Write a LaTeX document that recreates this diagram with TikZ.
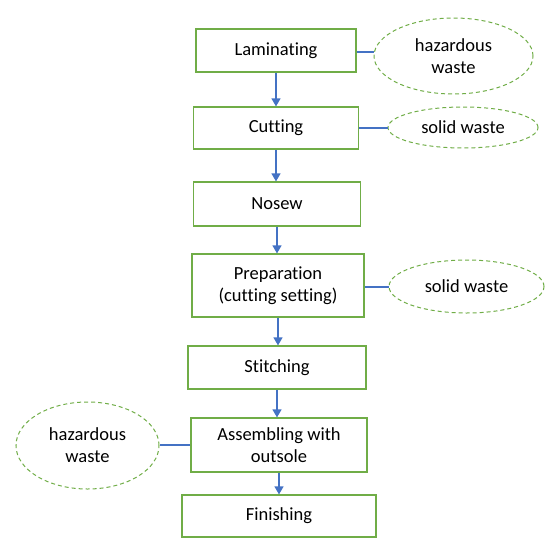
\documentclass[tikz,border=0pt]{standalone}
\usepackage{fontspec}
\setmainfont{Carlito}[Ligatures=NoCommon]
\usetikzlibrary{arrows.meta,shapes.geometric}
\definecolor{boxgreen}{HTML}{70AD47}
\definecolor{arrblue}{HTML}{4472C4}
\begin{document}
\begin{tikzpicture}[x=1pt,y=-1pt,
  font=\fontsize{18.5}{22}\selectfont,
  stepbox/.style={draw=boxgreen,line width=1.2pt,rectangle,inner sep=0pt,align=center,fill=white},
  wastebox/.style={draw=boxgreen,dashed,dash pattern=on 4pt off 3pt,line width=1pt,ellipse,inner sep=0pt,align=center},
  flow/.style={draw=arrblue,line width=1.2pt,-{Triangle[length=8pt,width=9pt]}},
  link/.style={draw=arrblue,line width=1.1pt}]
\useasboundingbox (0,0) rectangle (545,538);
\node[stepbox,minimum width=160pt,minimum height=43pt] (lam) at (276,50.5) {Laminating};
\node[stepbox,minimum width=165pt,minimum height=42pt] (cut) at (276,128) {Cutting};
\node[stepbox,minimum width=167pt,minimum height=44pt] (nos) at (277,204) {Nosew};
\node[stepbox,minimum width=172pt,minimum height=63pt] (prep) at (278,285.5) {Preparation\\(cutting setting)};
\node[stepbox,minimum width=178pt,minimum height=43pt] (sti) at (277,367.5) {Stitching};
\node[stepbox,minimum width=176pt,minimum height=54pt] (asm) at (279,445) {Assembling with\\outsole};
\node[stepbox,minimum width=194pt,minimum height=42pt] (fin) at (279,516) {Finishing};

\node[wastebox,minimum width=159pt,minimum height=76pt] (hw1) at (453.5,56) {hazardous\\waste};
\node[wastebox,minimum width=150pt,minimum height=41pt] (sw1) at (463,127.5) {solid waste};
\node[wastebox,minimum width=155pt,minimum height=53pt] (sw2) at (466.5,286.5) {solid waste};
\node[wastebox,minimum width=143pt,minimum height=87pt] (hw2) at (87.5,445.5) {hazardous\\waste};

\draw[flow] (lam.south) -- (lam.south |- cut.north);
\draw[flow] (cut.south) -- (cut.south |- nos.north);
\draw[flow] (nos.south) -- (nos.south |- prep.north);
\draw[flow] (prep.south) -- (prep.south |- sti.north);
\draw[flow] (sti.south) -- (sti.south |- asm.north);
\draw[flow] (asm.south) -- (asm.south |- fin.north);

\coordinate (l1) at ([yshift=-1.5pt]lam.east);
\draw[link] (l1) -- (l1 -| hw1.west);
\draw[link] (cut.east) -- (cut.east -| sw1.west);
\draw[link] ([yshift=-1.5pt]prep.east) -- ([yshift=-1.5pt]prep.east -| sw2.west);
\draw[link] (asm.west) -- (asm.west -| hw2.east);
\end{tikzpicture}
\end{document}
